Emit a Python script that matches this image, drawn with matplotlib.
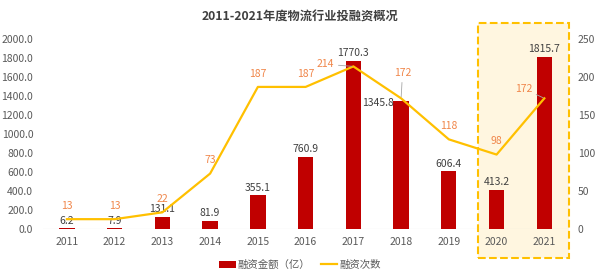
import matplotlib.pyplot as plt
from matplotlib.patches import Rectangle
from matplotlib.transforms import blended_transform_factory

plt.rcParams['font.family'] = ['Noto Sans CJK SC', 'DejaVu Sans']

years = ['2011', '2012', '2013', '2014', '2015', '2016', '2017', '2018', '2019', '2020', '2021']
amount = [6.2, 7.9, 131.1, 81.9, 355.1, 760.9, 1770.3, 1345.8, 606.4, 413.2, 1815.7]
count = [13, 13, 22, 73, 187, 187, 214, 172, 118, 98, 172]

bar_color = '#C00000'
line_color = '#FFC000'
lbl_orange = '#F0864A'
txt_gray = '#595959'

fig = plt.figure(figsize=(6, 2.73), dpi=100)
ax1 = fig.add_axes([0.0717, 0.161, 0.8753, 0.696])
ax2 = ax1.twinx()

x = list(range(len(years)))

# highlight box for 2020-2021
trans = blended_transform_factory(ax1.transData, fig.transFigure)
box = Rectangle((8.62, 1 - 258 / 273), 1.9, (258 - 23) / 273, transform=trans,
                facecolor='#FFF6E0', edgecolor=line_color, linestyle='--',
                linewidth=1.5, clip_on=False, zorder=0)
ax1.add_patch(box)

bars = ax1.bar(x, amount, width=0.32, color=bar_color, zorder=2, label='融资金额（亿）')
ax1.set_ylim(0, 2000)
ax1.set_xlim(-0.5, len(years) - 0.5)
ax1.set_yticks(range(0, 2001, 200))
ax1.set_yticklabels([f'{v:.1f}' for v in range(0, 2001, 200)])
ax1.set_xticks(x)
ax1.set_xticklabels(years)

ax2.plot(x, count, color=line_color, linewidth=1.6, label='融资次数', zorder=3)
ax2.set_ylim(0, 250)
ax2.set_yticks(range(0, 251, 50))

for a in (ax1, ax2):
    for s in a.spines.values():
        s.set_visible(False)
    a.tick_params(length=0, labelsize=7.5, colors=txt_gray)
ax1.tick_params(axis='x', pad=6)
ax1.tick_params(axis='y', pad=7)
ax2.tick_params(axis='y', pad=7)
ax1.axhline(0, color='#D9D9D9', linewidth=0.8, zorder=1)

# bar labels
for i, v in enumerate(amount):
    if years[i] == '2018':
        ax1.annotate(f'{v:.1f}', (i, v), xytext=(-16.5, -1), textcoords='offset points',
                     ha='center', va='center', fontsize=7.5, color='#404040')
    else:
        ax1.annotate(f'{v:.1f}', (i, v), xytext=(0, 2), textcoords='offset points',
                     ha='center', va='bottom', fontsize=7.5, color='#404040')

# line labels
lead = dict(arrowstyle='-', color='#A6A6A6', linewidth=0.6, shrinkA=1, shrinkB=1)
for i, v in enumerate(count):
    if years[i] == '2017':
        ax2.annotate(str(v), (i, v), xytext=(-20, 1.5), textcoords='offset points',
                     ha='center', va='center', fontsize=7.5, color=lbl_orange, arrowprops=lead)
    elif years[i] == '2018':
        ax2.annotate(str(v), (i, v), xytext=(1, 18), textcoords='offset points',
                     ha='center', va='center', fontsize=7.5, color=lbl_orange, arrowprops=lead)
    elif years[i] == '2021':
        ax2.annotate(str(v), (i, v), xytext=(-15, 7), textcoords='offset points',
                     ha='center', va='center', fontsize=7.5, color=lbl_orange, arrowprops=lead)
    else:
        ax2.annotate(str(v), (i, v), xytext=(0, 6), textcoords='offset points',
                     ha='center', va='bottom', fontsize=7.5, color=lbl_orange)

fig.text(0.5, 1 - 17 / 273, '2011-2021年度物流行业投融资概况', ha='center', va='center',
         fontsize=8.8, fontweight='bold', color='#404040')

h1, l1 = ax1.get_legend_handles_labels()
h2, l2 = ax2.get_legend_handles_labels()
fig.legend(h1 + h2, l1 + l2, loc='center', bbox_to_anchor=(0.5, 1 - 265 / 273), ncol=2,
           frameon=False, fontsize=7.5, labelcolor=txt_gray, handlelength=1.6,
           handletextpad=0.2, columnspacing=1.0)

fig.savefig('out.png', dpi=100)
